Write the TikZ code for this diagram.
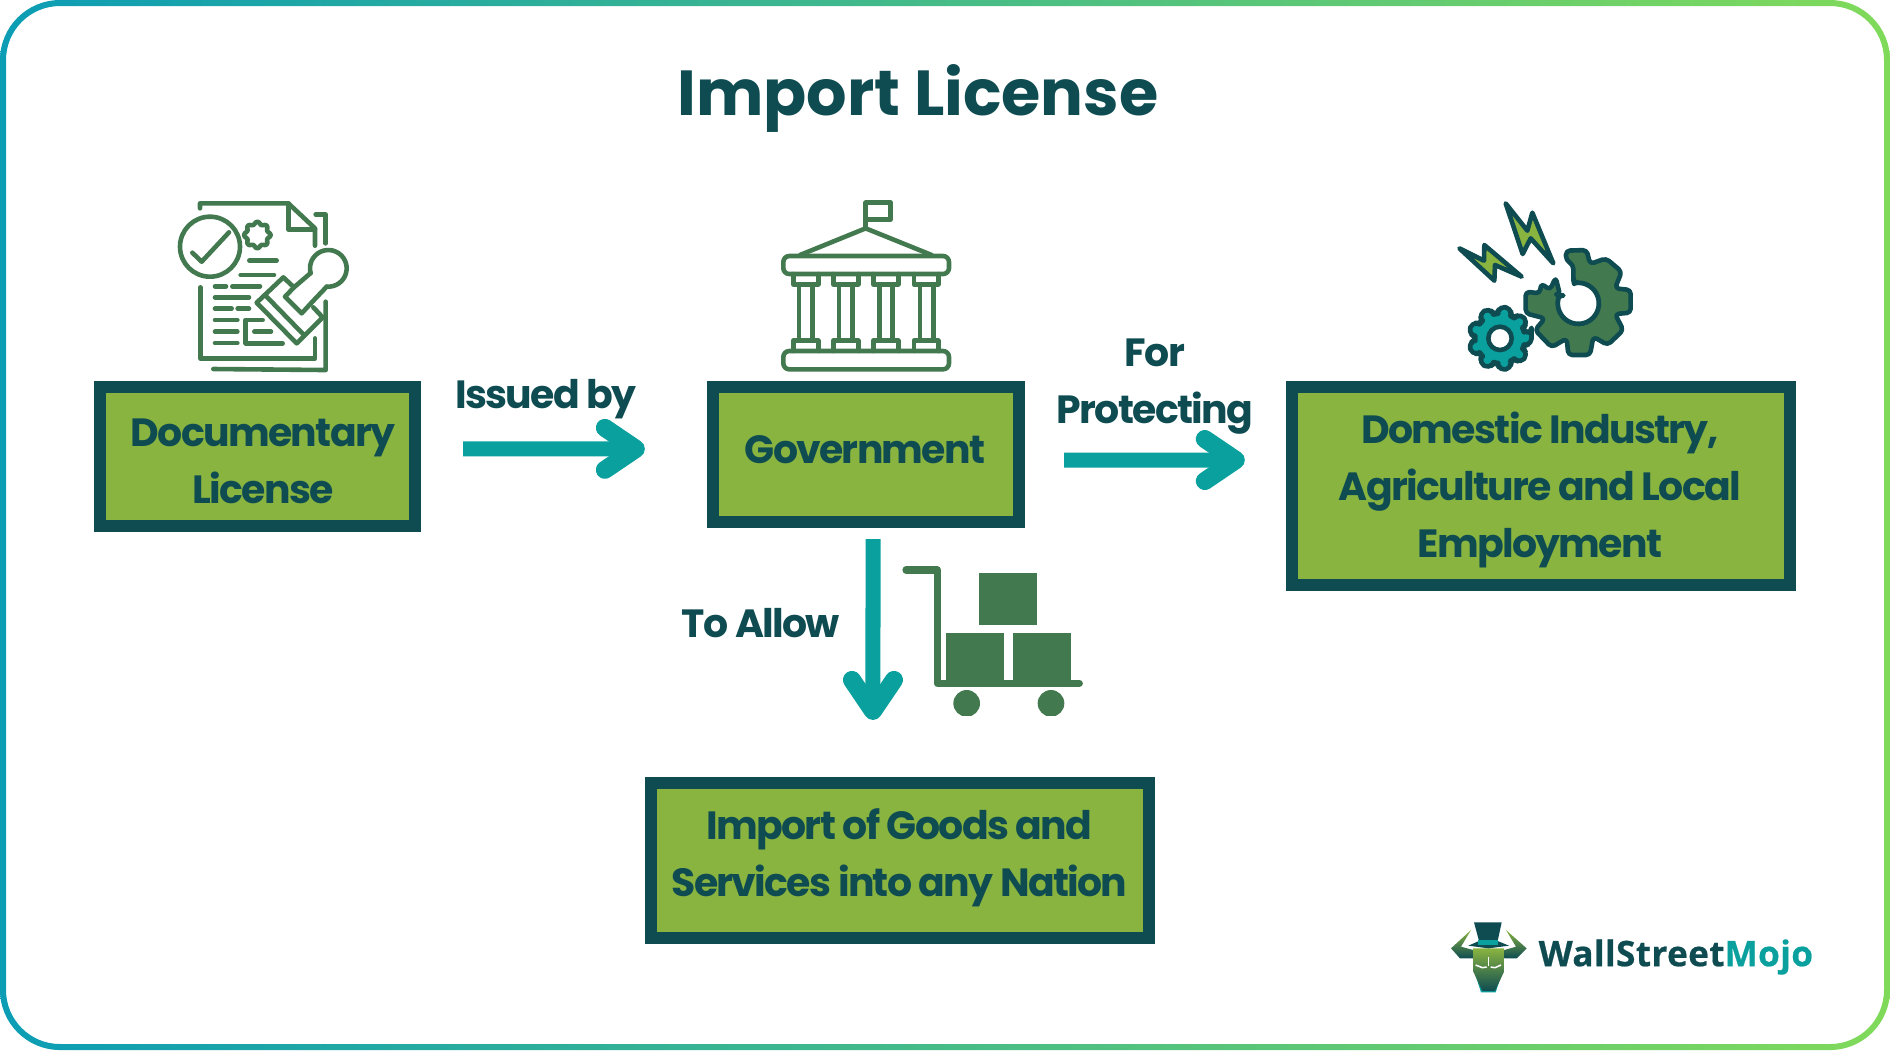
\documentclass[tikz,border=0pt]{standalone}
\usepackage{fontspec}
\setmainfont{Poppins}[LetterSpace=-4.3]
\newfontfamily\titlefont{Poppins}
\newfontfamily\logofont{Open Sans}[LetterSpace=1,FakeBold=0.6]
\usetikzlibrary{positioning,calc,arrows,arrows.meta}

\definecolor{boxgreen}{HTML}{8AB440}
\definecolor{darkteal}{HTML}{0E4C52}
\definecolor{iconteal}{HTML}{0AA09E}
\definecolor{icongreen}{HTML}{43794F}
\definecolor{frameleft}{HTML}{0C9DB5}
\definecolor{frameright}{HTML}{80DA5A}

\begin{document}
\begin{tikzpicture}[
    x=0.01cm, y=-0.01cm,
    lic/.style={rectangle, draw=darkteal, fill=boxgreen, line width=1.2mm},
    flowlabel/.style={text=darkteal, align=center, inner sep=0pt,
        font=\fontsize{11.2pt}{16.2pt}\selectfont\bfseries},
    flow/.style={draw=iconteal, line width=1.5mm, -{Straight Barb[round,length=3.1mm,width=4.2mm,line width=1.8mm]}},
    ink/.style={draw=icongreen, line width=0.46mm, line join=round, line cap=round},
    gearline/.style={draw=darkteal, line width=0.46mm, line join=round}
]
\useasboundingbox (0,0) rectangle (1890,1050);

% Frame
\shade[left color=frameleft, right color=frameright, even odd rule]
    [rounded corners=6mm] (0,0) rectangle (1890,1050)
    [rounded corners=5.4mm] (6,6) rectangle (1884,1044);

% Title
\node[text=darkteal, inner sep=0pt, font=\titlefont\fontsize{18.1pt}{24pt}\selectfont\bfseries] (title) at (918,98) {Import License};

% Boxes
\node[lic, minimum width=31.5mm, minimum height=13.9mm] (doc) at (257.5,456.5) {};
\node[lic, minimum width=30.6mm, minimum height=13.5mm] (gov) at (866,454.5) {};
\node[lic, minimum width=49.8mm, minimum height=19.8mm] (dom) at (1541,486) {};
\node[lic, minimum width=49.8mm, minimum height=15.5mm] (imp) at (900,860.5) {};

% Box texts
\node[flowlabel] (doctext) at (263,461.3) {Documentary\\License};
\node[flowlabel] (govtext) at (865,449.7) {Government};
\node[flowlabel] (domtext) at (1540,489.6) {Domestic Industry,\\Agriculture and Local\\Employment};
\node[flowlabel] (imptext) at (899.5,858) {Import of Goods and\\Services into any Nation};

% Arrows
\draw[flow, shorten <=4.2mm, shorten >=6.2mm] ([yshift=2.2pt]doc.east) -- ([yshift=1.6pt]gov.west);
\draw[flow, shorten <=3.9mm, shorten >=4.1mm] ([yshift=-1.6pt]gov.east) -- ([yshift=7.4pt]dom.west);
\draw[flow, shorten <=1.1mm, shorten >=5.7mm] ([xshift=2pt]gov.south) -- ([xshift=-7.7pt]imp.north);

% Labels
\node[flowlabel] (issued) at (546,399.5) {Issued by};
\node[flowlabel] (protect) at (1155,387) {For\\Protecting};
\node[flowlabel] (allow) at (761,623) {To Allow};

% Document icon
\begin{scope}[shift={(150,180)}, scale=1/3, every path/.style={ink}]
    \draw (150,85) -- (150,70) -- (415,70) -- (495,145) -- (495,197);
    \draw (415,70) -- (415,148) -- (495,148);
    \draw (497,103) -- (527,103) -- (527,190);
    \draw (527,365) -- (527,570) -- (190,567);
    \draw (151,322) -- (151,535) -- (495,535) -- (495,475);
    \draw (180,200) circle (90);
    \draw (127,218) -- (155,245) -- (237,157);
    \draw plot[domain=0:360, samples=49, smooth] ({322+(36+4*cos(8*\x))*cos(\x)}, {165+(36+4*cos(8*\x))*sin(\x)}) -- cycle;
    \foreach \xa/\xb/\yy in {298/380/242, 272/372/285, 195/228/319, 247/330/319, 195/297/352,
        195/245/386, 263/297/386, 195/262/420, 195/262/455, 195/262/489, 313/363/455}
        \draw (\xa,\yy) -- (\xb,\yy);
    \draw (338,420) -- (287,420) -- (287,490) -- (398,490);
    % stamp
    \draw (432,322) -- (400,292) -- (320,368) -- (440,490) -- (518,412) -- (490,382);
    \draw (345,345) -- (462,465);
    \draw (482,279) -- (432,322) -- (405,350) -- (455,400) -- (492,360) -- (530,320);
    \draw plot[domain=95:-195, samples=30, smooth] ({535+55*cos(\x)}, {265+55*sin(\x)});
\end{scope}

% Government icon
\begin{scope}[shift={(760,190)}, scale=1/3, every path/.style={ink}]
    \draw (317,115) -- (317,38) -- (392,38) -- (392,88) -- (317,88);
    \draw (120,195) -- (317,115) -- (515,195);
    \draw[rounded corners=0.6mm] (70,198) rectangle (567,252);
    \draw[rounded corners=0.6mm] (70,483) rectangle (567,538);
    \foreach \xa/\xb/\xc/\xd in {100/175/117/157, 220/295/237/277, 340/415/358/398, 462/535/480/520} {
        \draw (\xa,252) -- (\xa,283) -- (\xb,283) -- (\xb,252);
        \draw (\xc,283) -- (\xc,452);
        \draw (\xd,283) -- (\xd,452);
        \draw (\xa,483) -- (\xa,452) -- (\xb,452) -- (\xb,483);
    }
\end{scope}

% Gears icon
\begin{scope}[shift={(1440,190)}, scale=1/3]
    \filldraw[gearline, fill=boxgreen] (197,40) -- (262,122) -- (277,68) -- (340,220) -- (272,145) -- (248,192) -- cycle;
    \filldraw[gearline, fill=boxgreen] (58,175) -- (132,212) -- (133,165) -- (245,260) -- (165,225) -- (163,272) -- cycle;
    \filldraw[gearline, fill=icongreen, rounded corners=0.4mm] (400,270) -- (400,225) -- (378,210) -- (378,182) -- (440,180) -- (450,222)
        -- (498,205) -- (545,245) -- (525,295) -- (572,300) -- (572,368) -- (525,372) -- (550,420) -- (503,465)
        -- (460,440) -- (450,495) -- (385,495) -- (380,445) -- (335,472) -- (285,420) -- (315,385) -- (257,370)
        -- (257,305) -- (300,310) -- (303,280) -- (330,300) -- (347,262) -- (360,315)
        -- plot[domain=204:-102, samples=30] ({415+62*cos(\x)}, {340+62*sin(\x)}) -- cycle;
    \filldraw[gearline, fill=iconteal, rounded corners=0.5mm] ({180+96*cos(-10)}, {445+96*sin(-10)})
        \foreach \a in {0,40,...,320} {
            -- ({180+96*cos(\a-10)}, {445+96*sin(\a-10)}) -- ({180+96*cos(\a+10)}, {445+96*sin(\a+10)})
            -- ({180+74*cos(\a+15)}, {445+74*sin(\a+15)}) -- ({180+74*cos(\a+25)}, {445+74*sin(\a+25)})
        } -- cycle;
    \filldraw[gearline, fill=white] (180,445) circle (35);
\end{scope}

% Trolley
\begin{scope}[shift={(830,530)}, scale=1/3]
    \draw[draw=icongreen, line width=0.72mm, line cap=round, line join=round] (228,120) -- (322,120) -- (322,460) -- (748,460);
    \fill[icongreen] (448,130) rectangle (622,285);
    \fill[icongreen] (348,310) rectangle (522,455);
    \fill[icongreen] (550,310) rectangle (722,455);
    \begin{scope}
        \clip (340,480) rectangle (720,557);
        \fill[icongreen] (410,520) circle (40);
        \fill[icongreen] (663,520) circle (40);
    \end{scope}
\end{scope}

% Logo
\begin{scope}[shift={(1445,915)}, scale=1/3]
    \shade[top color=boxgreen, bottom color=darkteal] (78,45) -- (18,100) -- (45,130) -- (85,130) -- (85,105) -- (48,95) -- cycle;
    \shade[top color=boxgreen, bottom color=darkteal] (183,45) -- (245,100) -- (215,130) -- (178,130) -- (178,105) -- (213,95) -- cycle;
    \fill[iconteal] (88,170) -- (172,170) -- (152,232) -- (108,232) -- cycle;
    \shade[top color=boxgreen, bottom color=darkteal] (84,100) -- (178,100) -- (178,168) -- (150,228) -- (112,228) -- (84,168) -- cycle;
    \fill[darkteal] (87,22) -- (170,22) -- (158,78) -- (192,92) -- (130,100) -- (70,92) -- (102,78) -- cycle;
    \fill[iconteal] (100,74) rectangle (160,90);
    \draw[white, line width=0.1mm] (130,125) -- (130,152);
    \draw[white, line width=0.15mm] (92,150) -- (112,158) -- (125,156);
    \draw[white, line width=0.15mm] (168,150) -- (150,158) -- (137,156);
\end{scope}
\node[inner sep=0pt, anchor=west, font=\logofont\fontsize{10pt}{12pt}\selectfont\bfseries] (logo) at (1538,957)
    {\textcolor{darkteal}{WallStreet}\textcolor{iconteal}{Mojo}};

\end{tikzpicture}
\end{document}
